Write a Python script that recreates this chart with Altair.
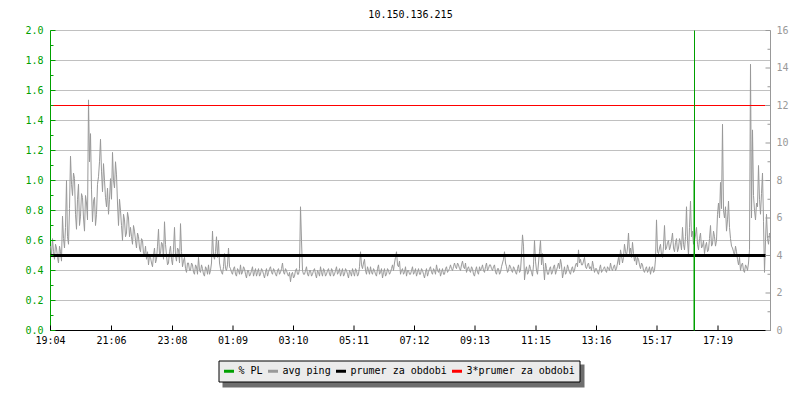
import altair as alt
import pandas as pd

TITLE = "10.150.136.215"

# x axis (minutes after 19:04)
x_tick_minutes = [0, 122, 244, 365, 486, 607, 728, 849, 971, 1092, 1213, 1335]
x_tick_labels = ["19:04", "21:06", "23:08", "01:09", "03:10", "05:11",
                 "07:12", "09:13", "11:15", "13:16", "15:17", "17:19"]
x_domain = [0, 1440]
sample_step_min = 4

# avg ping in ms (right axis), samples at minute 0, 4, 8, ...
ping_ms = [
    4.5, 4.9, 3.8, 4.4, 3.6, 4.2, 6.1, 4.4, 8.0, 4.6,
    9.3, 7.2, 8.1, 5.4, 7.8, 6.1, 7.1, 5.3, 6.8, 12.3,
    10.5, 5.8, 7.1, 6.2, 8.2, 10.2, 7.4, 8.0, 6.6, 6.2,
    8.1, 9.5, 7.6, 8.3, 5.6, 6.4, 4.8, 5.9, 5.2, 6.0,
    5.5, 4.6, 5.3, 4.4, 5.0, 4.2, 4.8, 4.0, 3.8, 3.5,
    3.9, 3.4, 4.4, 3.8, 5.4, 4.1, 4.6, 5.8, 4.0, 3.6,
    4.5, 3.5, 5.5, 3.7, 4.3, 5.7, 3.4, 3.9, 3.1, 3.6,
    3.2, 3.5, 3.0, 3.4, 3.9, 3.1, 3.3, 2.9, 3.3, 3.5,
    3.2, 5.3, 3.8, 5.0, 4.8, 3.3, 3.0, 4.1, 3.2, 4.4,
    3.3, 3.0, 3.4, 2.9, 3.2, 3.5, 3.1, 3.3, 2.8, 3.2,
    3.0, 3.4, 3.1, 2.9, 3.3, 3.0, 3.2, 2.8, 3.3, 3.1,
    3.4, 3.0, 3.2, 2.9, 3.3, 3.1, 3.6, 3.0, 3.2, 2.9,
    2.6, 3.1, 2.9, 3.3, 3.0, 6.6, 3.2, 3.0, 3.4, 2.9,
    3.2, 3.0, 3.3, 2.8, 3.1, 3.4, 2.9, 3.2, 3.0, 3.3,
    2.9, 3.2, 3.0, 3.4, 3.1, 2.9, 3.3, 3.0, 3.2, 2.8,
    3.1, 3.3, 2.9, 3.2, 3.0, 4.2, 3.3, 3.8, 3.0, 3.2,
    3.4, 3.0, 3.2, 2.9, 3.5, 3.1, 2.8, 3.3, 3.0, 3.2,
    3.1, 3.5, 3.6, 4.2, 3.4, 3.0, 3.3, 3.1, 2.9, 3.2,
    3.0, 3.4, 3.1, 2.9, 3.3, 3.0, 3.2, 2.8, 3.3, 3.1,
    3.4, 3.0, 3.2, 3.5, 3.1, 2.9, 3.3, 3.0, 3.4, 3.2,
    3.5, 3.2, 3.6, 3.3, 3.5, 3.2, 3.7, 3.3, 3.1, 3.4,
    3.1, 3.3, 2.9, 3.4, 3.0, 3.2, 3.5, 3.1, 3.6, 3.3,
    3.5, 3.2, 3.5, 3.0, 3.3, 3.1, 3.6, 4.2, 3.4, 3.2,
    3.4, 3.1, 3.3, 3.0, 3.5, 3.2, 5.1, 2.7, 3.4, 3.1,
    3.3, 2.9, 4.8, 3.2, 3.6, 4.8, 4.1, 2.7, 3.3, 3.0,
    3.4, 3.1, 3.5, 3.2, 3.6, 3.8, 2.8, 3.4, 3.1, 3.3,
    3.0, 3.4, 3.2, 3.6, 4.3, 3.8, 3.5, 3.9, 3.3, 3.6,
    3.4, 3.7, 3.1, 3.3, 3.0, 3.5, 3.2, 3.4, 3.1, 3.3,
    3.6, 3.2, 3.5, 3.3, 3.9, 4.3, 3.6, 4.6, 4.0, 5.2,
    4.4, 4.7, 3.7, 3.5, 3.8, 3.3, 3.5, 3.1, 3.4, 3.2,
    3.0, 3.4, 3.2, 5.9, 4.1, 4.6, 3.9, 5.6, 4.4, 4.8,
    4.5, 5.2, 4.2, 4.9, 4.4, 4.7, 5.5, 4.3, 6.6, 4.0,
    6.9, 5.3, 4.8, 5.5, 4.3, 5.2, 4.5, 4.1, 4.7, 4.3,
    5.6, 4.6, 5.0, 4.8, 6.8, 7.9, 11.0, 6.0, 5.3, 6.9,
    4.9, 4.4, 4.0, 4.2, 3.5, 3.2, 3.6, 3.1, 3.4, 3.6,
    14.2, 10.7, 6.4, 6.8, 8.8, 6.2, 8.4, 3.1, 6.2, 4.6,
]

# avg ping in ms, the in-between samples at minute 2, 6, 10, ...
ping_ms_mid = [
    4.0, 4.2, 4.6, 3.9, 4.5, 3.7, 4.9, 5.5, 5.0, 6.5,
    7.8, 8.4, 6.2, 7.0, 5.6, 7.3, 6.0, 7.2, 5.9, 9.0,
    7.5, 6.9, 5.6, 7.8, 9.0, 8.5, 8.9, 7.1, 7.6, 7.0,
    7.0, 8.0, 9.0, 6.8, 7.0, 5.6, 6.2, 5.0, 6.3, 5.0,
    5.0, 5.6, 4.8, 5.2, 4.4, 4.9, 4.1, 4.5, 4.2, 4.0,
    3.6, 4.0, 3.6, 4.5, 4.0, 4.7, 3.8, 4.6, 3.5, 4.2,
    3.8, 4.3, 4.0, 4.4, 3.6, 4.2, 3.7, 3.3, 3.6, 3.2,
    3.6, 3.1, 3.5, 3.0, 3.2, 3.5, 3.0, 3.4, 3.0, 3.0,
    3.6, 4.0, 4.2, 3.9, 3.6, 3.1, 3.4, 3.3, 3.5, 3.4,
    3.1, 3.3, 3.0, 3.3, 3.0, 3.0, 3.4, 3.0, 3.2, 2.9,
    3.2, 2.9, 3.3, 3.1, 2.9, 3.3, 3.0, 3.1, 2.9, 3.3,
    3.1, 3.3, 3.0, 3.2, 3.0, 3.3, 3.1, 3.3, 3.0, 3.1,
    3.0, 2.8, 3.2, 3.0, 3.3, 4.8, 3.0, 3.2, 3.0, 3.2,
    2.9, 3.2, 3.0, 3.2, 2.9, 3.1, 3.3, 2.9, 3.2, 3.0,
    3.3, 2.9, 3.2, 3.0, 3.3, 3.1, 2.9, 3.3, 3.0, 3.2,
    2.9, 3.1, 3.3, 2.9, 3.4, 3.5, 3.6, 3.2, 3.4, 3.0,
    3.1, 3.3, 3.0, 3.3, 3.0, 3.3, 3.1, 2.9, 3.3, 3.0,
    3.3, 3.2, 3.9, 3.5, 3.7, 3.2, 3.0, 3.4, 3.2, 3.0,
    3.2, 3.0, 3.3, 3.1, 3.0, 3.3, 3.0, 3.1, 2.9, 3.3,
    3.1, 3.3, 3.0, 3.2, 3.3, 3.1, 3.0, 3.3, 3.1, 3.3,
    3.3, 3.4, 3.4, 3.6, 3.3, 3.5, 3.4, 3.6, 3.3, 3.2,
    3.4, 3.0, 3.2, 3.1, 3.4, 3.3, 3.2, 3.4, 3.2, 3.5,
    3.3, 3.4, 3.1, 3.3, 3.0, 3.4, 3.8, 3.6, 3.1, 3.5,
    3.2, 3.4, 3.1, 3.3, 3.1, 4.0, 4.5, 3.2, 3.0, 3.5,
    3.1, 3.5, 3.7, 3.0, 4.2, 3.5, 3.4, 3.6, 3.0, 3.3,
    3.0, 3.4, 3.0, 3.4, 3.3, 3.5, 3.1, 3.0, 3.5, 3.1,
    3.3, 3.1, 3.5, 3.4, 3.6, 3.5, 3.7, 3.4, 3.5, 3.3,
    3.2, 3.4, 3.3, 3.1, 3.3, 3.1, 3.3, 3.2, 3.4, 3.2,
    3.3, 3.4, 3.2, 3.6, 3.5, 4.0, 3.9, 4.2, 4.4, 4.1,
    3.9, 4.1, 4.0, 3.9, 3.5, 3.6, 3.2, 3.3, 3.1, 3.4,
    3.3, 3.1, 3.8, 4.2, 4.4, 4.0, 4.5, 4.3, 4.7, 4.3,
    4.8, 4.4, 4.7, 4.2, 4.9, 4.3, 4.6, 5.0, 4.8, 5.5,
    5.0, 4.6, 5.1, 4.6, 4.9, 4.4, 4.8, 4.5, 4.2, 4.9,
    4.5, 5.3, 4.5, 6.2, 6.0, 6.5, 6.4, 6.6, 5.9, 5.5,
    4.5, 4.2, 4.5, 3.8, 3.9, 3.5, 3.2, 3.5, 3.2, 4.3,
    6.0, 7.2, 5.9, 6.6, 7.0, 7.3, 5.8, 4.8, 4.9, 5.2,
]

avg_ms = [4.0]
three_avg_ms = [12.0]
hline_end_min = [1430]

# packet loss (% PL, left axis)
pl_minutes = [1287, 1288]
pl_values = [1.0, 2.0]

left_major = [0.0, 0.2, 0.4, 0.6, 0.8, 1.0, 1.2, 1.4, 1.6, 1.8, 2.0]
left_minor = [0.1, 0.3, 0.5, 0.7, 0.9, 1.1, 1.3, 1.5, 1.7, 1.9]
right_major = [0, 2, 4, 6, 8, 10, 12, 14, 16]
right_minor = [1, 3, 5, 7, 9, 11, 13, 15]

legend_names = ["% PL", "avg ping", "prumer za obdobi", "3*prumer za obdobi"]
legend_colors = ["#00a000", "#999999", "#000000", "#ff0000"]

GREEN = "#00a000"
GREY = "#999999"
FONT = "DejaVu Sans Mono"

W, H = 720, 300

# ---------------- data frames ----------------
ping_t, ping_v = [], []
for i, (a, b) in enumerate(zip(ping_ms, ping_ms_mid)):
    ping_t += [i * sample_step_min, i * sample_step_min + sample_step_min // 2]
    ping_v += [a, b]
ping_df = pd.DataFrame({"t": ping_t, "ms": ping_v, "s": "avg ping"})

avg_df = pd.DataFrame({"t0": [0], "t1": hline_end_min, "ms": avg_ms, "s": ["prumer za obdobi"]})
red_df = pd.DataFrame({"t0": [0], "t1": hline_end_min, "ms": three_avg_ms, "s": ["3*prumer za obdobi"]})
pl_df = pd.DataFrame({"t": pl_minutes, "v": pl_values, "base": [0.0] * len(pl_values), "s": "% PL"})

lmaj = pd.DataFrame({"v": left_major})
lmin = pd.DataFrame({"v": left_minor})
rmaj = pd.DataFrame({"v": right_major})
rmin = pd.DataFrame({"v": right_minor})
xt_df = pd.DataFrame({"t": x_tick_minutes})
one = pd.DataFrame({"a": [0]})

xscale = alt.Scale(domain=x_domain, nice=False, zero=False, padding=0)
lscale = alt.Scale(domain=[0, 2], nice=False, zero=True)
rscale = alt.Scale(domain=[0, 16], nice=False, zero=True)
cscale = alt.Scale(domain=legend_names, range=legend_colors)

label_expr = ""
for m, lab in zip(x_tick_minutes, x_tick_labels):
    label_expr += f"datum.value == {m} ? '{lab}' : "
label_expr += "''"

x_axis = alt.Axis(values=x_tick_minutes, labelExpr=label_expr, ticks=False,
                  domainColor="#000000", domainWidth=1, labelFont=FONT,
                  labelFontSize=10, labelColor="#000000", labelPadding=5,
                  grid=False, title=None, labelFlush=False, labelOverlap=False,
                  translate=0)
r_axis = alt.Axis(orient="right", values=right_major, ticks=False,
                  domainColor=GREY, labelColor=GREY, labelFont=FONT,
                  labelFontSize=10, labelPadding=6, grid=False, title=None,
                  labelFlush=False, labelOverlap=False, translate=0)
l_axis = alt.Axis(orient="left", values=left_major, format=".1f", ticks=False,
                  domainColor=GREEN, labelColor=GREEN, labelFont=FONT,
                  labelFontSize=10, labelPadding=7, grid=True,
                  gridColor="#c0c0c0", gridWidth=1, title=None,
                  labelFlush=False, labelOverlap=False, translate=0)

legend = alt.Legend(
    orient="none", legendX=168, legendY=330, direction="horizontal",
    title=None, symbolType="stroke", symbolSize=100, symbolStrokeWidth=3,
    labelFont=FONT, labelFontSize=10, labelColor="#000000", labelOffset=3,
    columnPadding=-2, padding=4, fillColor="#ebebeb", strokeColor="#000000",
    cornerRadius=0,
)

# ---------------- right (ms) group ----------------
shadow = alt.Chart(one).mark_rect(color="#6e6e6e").encode(
    x=alt.value(172), x2=alt.value(534), y=alt.value(334), y2=alt.value(357)
)

ping_line = alt.Chart(ping_df).mark_line(strokeWidth=1, interpolate="linear").encode(
    x=alt.X("t:Q", scale=xscale, axis=x_axis),
    y=alt.Y("ms:Q", scale=rscale, axis=r_axis),
    color=alt.Color("s:N", scale=cscale, legend=legend),
)

avg_rule = alt.Chart(avg_df).mark_rule(strokeWidth=3).encode(
    x=alt.X("t0:Q", scale=xscale, axis=x_axis), x2="t1:Q",
    y=alt.Y("ms:Q", scale=rscale, axis=r_axis),
    color=alt.Color("s:N", scale=cscale, legend=legend),
)
red_rule = alt.Chart(red_df).mark_rule(strokeWidth=1).encode(
    x=alt.X("t0:Q", scale=xscale, axis=x_axis), x2="t1:Q",
    y=alt.Y("ms:Q", scale=rscale, axis=r_axis),
    color=alt.Color("s:N", scale=cscale, legend=legend),
)
r_major = alt.Chart(rmaj).mark_rule(color=GREY, strokeWidth=1).encode(
    y=alt.Y("v:Q", scale=rscale, axis=r_axis), x=alt.value(W - 5), x2=alt.value(W)
)
r_minor = alt.Chart(rmin).mark_rule(color=GREY, strokeWidth=1).encode(
    y=alt.Y("v:Q", scale=rscale, axis=r_axis), x=alt.value(W - 3), x2=alt.value(W)
)
right_group = alt.layer(shadow, ping_line, avg_rule, red_rule, r_major, r_minor)

# ---------------- left (% PL) group ----------------
grid_layer = alt.Chart(lmaj).mark_rule(opacity=0).encode(
    y=alt.Y("v:Q", scale=lscale, axis=l_axis),
)
pl_rule = alt.Chart(pl_df).mark_rule(strokeWidth=1).encode(
    x=alt.X("t:Q", scale=xscale, axis=x_axis),
    y=alt.Y("base:Q", scale=lscale, axis=l_axis), y2="v:Q",
    color=alt.Color("s:N", scale=cscale, legend=legend),
)
l_major = alt.Chart(lmaj).mark_rule(color=GREEN, strokeWidth=1).encode(
    y=alt.Y("v:Q", scale=lscale, axis=l_axis), x=alt.value(0), x2=alt.value(5)
)
l_minor = alt.Chart(lmin).mark_rule(color=GREEN, strokeWidth=1).encode(
    y=alt.Y("v:Q", scale=lscale, axis=l_axis), x=alt.value(0), x2=alt.value(3)
)
x_ticks = alt.Chart(xt_df).mark_rule(color="#000000", strokeWidth=1).encode(
    x=alt.X("t:Q", scale=xscale, axis=x_axis), y=alt.value(H - 5), y2=alt.value(H)
)
left_group = alt.layer(grid_layer, pl_rule, l_major, l_minor, x_ticks)

chart = alt.layer(right_group, left_group).resolve_scale(y="independent").properties(
    width=W, height=H,
    title=alt.TitleParams(TITLE, font=FONT, fontSize=10, fontWeight="normal",
                          color="#000000", anchor="middle", offset=6),
    autosize=alt.AutoSizeParams(type="none"),
    padding={"left": 42.5, "top": 22.5, "right": 21.5, "bottom": 61.5},
    background="#ffffff",
).configure_view(stroke=None)

chart.save("out.html", embed_options={"renderer": "svg", "actions": False})
